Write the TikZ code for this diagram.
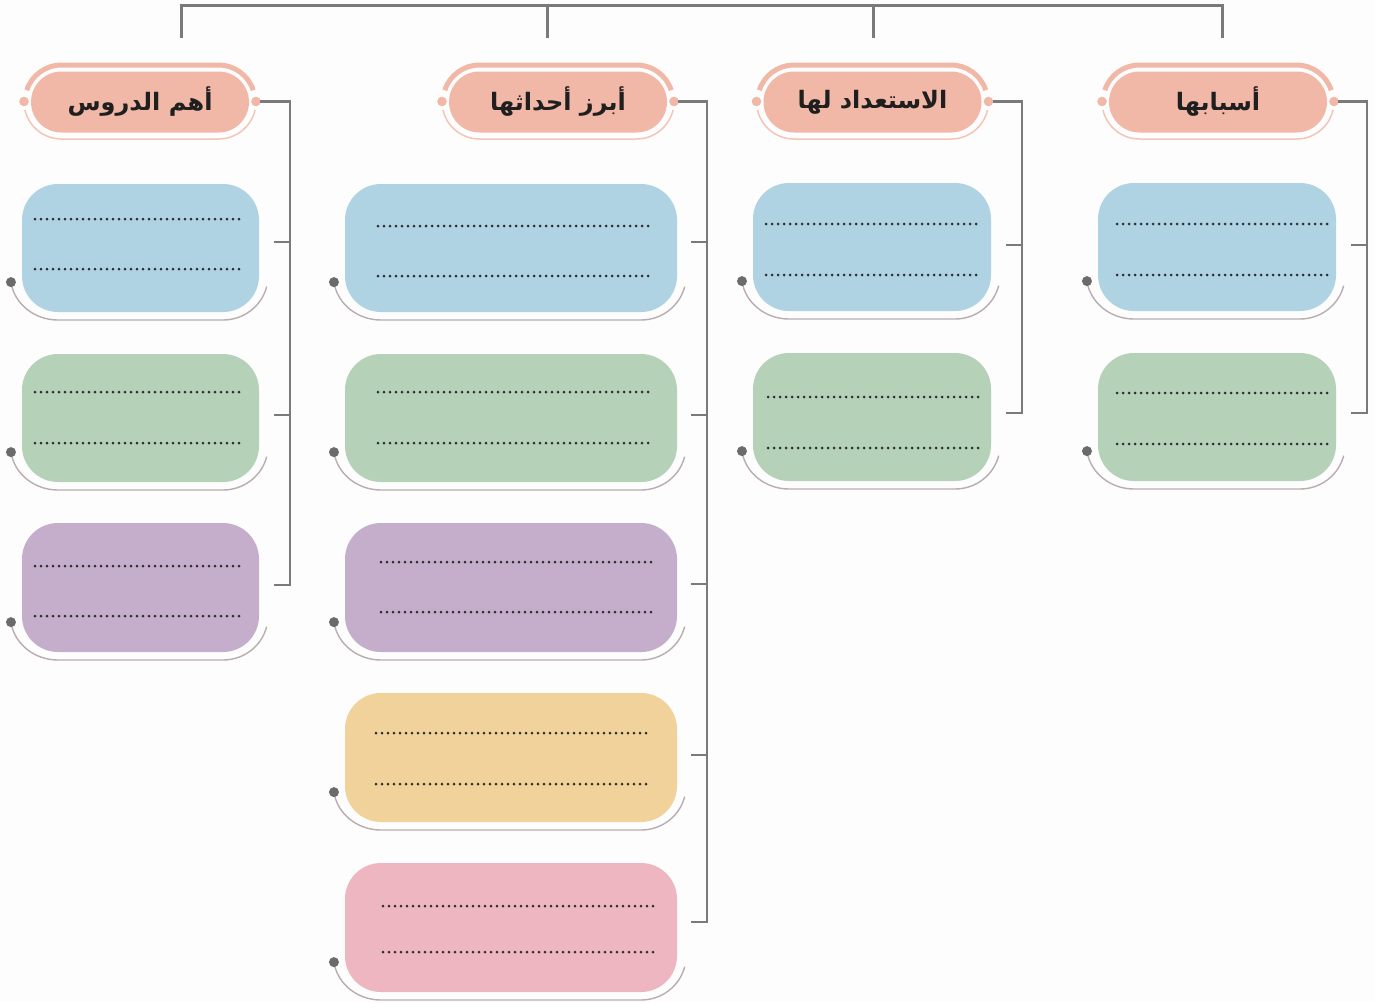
\documentclass[tikz,border=0pt]{standalone}
\usepackage{fontspec}
\newfontfamily\arabicfont[Script=Arabic]{DejaVu Sans}
\TeXXeTstate=1
\usetikzlibrary{shapes.misc}

\definecolor{salmon}{HTML}{F1B8A7}
\definecolor{salmonlt}{HTML}{F4C5B7}
\definecolor{cblue}{HTML}{AFD3E2}
\definecolor{cgreen}{HTML}{B5D2B8}
\definecolor{cpurple}{HTML}{C4AECB}
\definecolor{cyellow}{HTML}{F2D29B}
\definecolor{cpink}{HTML}{EEB6C0}
\definecolor{conncol}{HTML}{7A7A7A}
\definecolor{arccol}{HTML}{BAACAF}
\definecolor{dotcol}{HTML}{6B6B6B}
\definecolor{bgcol}{HTML}{FDFDFD}

\tikzset{
  hdr/.style={rounded rectangle, fill=salmon, minimum width=218pt, minimum height=61pt,
    inner sep=0pt, text=black!88, font=\arabicfont\bfseries\fontsize{24}{30}\selectfont},
  card/.style={rectangle, rounded corners=36pt, inner sep=0pt},
  connline/.style={draw=conncol, line width=2.5pt},
  busline/.style={draw=conncol, line width=3pt},
  dotline/.style={draw=black!82, line width=3pt, line cap=round, dash pattern=on 0pt off 6pt},
  arcline/.style={draw=arccol, line width=1.4pt},
}

\newcommand\mkhdr[3]{%
  \node[hdr] (#1) at (#2,102) {#3};
  \draw[salmon, line width=5pt] (#2-78.5,101.5) ++(198:36.5)
    arc[start angle=198,end angle=270,radius=36.5] -- ++(157,0)
    arc[start angle=270,end angle=342,radius=36.5];
  \draw[salmonlt, line width=1.5pt] (#2-78.5,101.5) ++(167:37.5)
    arc[start angle=167,end angle=90,radius=37.5] -- ++(157,0)
    arc[start angle=90,end angle=13,radius=37.5];
  \coordinate (#1l) at (#2-116,101.5);
  \coordinate (#1r) at (#2+116,101.5);
  \coordinate (#1c) at (#2+120,101.5);
  \fill[salmon] (#1l) circle[radius=4.8];
  \fill[salmon] (#1r) circle[radius=4.8];
}

\newcommand\mkcard[6]{%
  \node[card, fill=#6, minimum width={#4-#2}, minimum height={#5-#3}] (#1)
    at ({(#2+#4)/2},{(#3+#5)/2}) {};
  \coordinate (#1d) at (#2+36,#5-36);
  \draw[arcline] (#1d) ++(172:{47.5 and 44})
    arc[start angle=172,end angle=90,x radius=47.5,y radius=44] -- (#4-36,#5+8)
    arc[start angle=90,end angle=14,x radius=45,y radius=44];
  \fill[dotcol] (#1d) ++(172:{47.5 and 44}) circle[radius=5];
}

\begin{document}
\begin{tikzpicture}[x=1pt,y=-1pt]
\useasboundingbox[fill=bgcol] (0,0) rectangle (1375,1002);

% top bus
\coordinate (b1) at (181,38);
\coordinate (b2) at (547,38);
\coordinate (b3) at (873,38);
\coordinate (b4) at (1222,38);
\coordinate (t1) at (181,5);
\coordinate (t4) at (1222,5);
\draw[busline] (b1) -- (t1) -- (t4) -- (b4);
\draw[busline] (b2) -- (b2 |- t1);
\draw[busline] (b3) -- (b3 |- t1);

% headers
\mkhdr{h1}{140}{\beginR أهم الدروس\endR}
\mkhdr{h2}{558}{\beginR أبرز أحداثها\endR}
\mkhdr{h3}{872.5}{\beginR الاستعداد لها\endR}
\mkhdr{h4}{1218}{\beginR أسبابها\endR}

% column 1 cards
\mkcard{c11}{22}{184}{259}{312}{cblue}
\mkcard{c12}{22}{354}{259}{482}{cgreen}
\mkcard{c13}{22}{523}{259}{652}{cpurple}
% column 2 cards
\mkcard{c21}{345}{184}{677}{312}{cblue}
\mkcard{c22}{345}{354}{677}{482}{cgreen}
\mkcard{c23}{345}{523}{677}{652}{cpurple}
\mkcard{c24}{345}{693}{677}{822}{cyellow}
\mkcard{c25}{345}{863}{677}{992}{cpink}
% column 3 cards
\mkcard{c31}{753}{183}{991}{311}{cblue}
\mkcard{c32}{753}{353}{991}{481}{cgreen}
% column 4 cards
\mkcard{c41}{1098}{183}{1336}{311}{cblue}
\mkcard{c42}{1098}{353}{1336}{481}{cgreen}

% dotted lines
\foreach \xa/\xb/\y in {35/244/219, 35/244/269, 35/244/392, 35/244/443, 35/244/566, 35/244/616,
  378/652/226, 378/652/276, 378/652/392, 378/652/443, 381/655/562, 381/655/612,
  376/650/733, 376/650/784, 383/657/906, 383/657/952,
  766/977/224, 766/977/275, 768/979/397, 768/979/448,
  1117/1328/224, 1117/1328/275, 1117/1328/393, 1117/1328/444}
  \draw[dotline] (\xa,\y) -- (\xb,\y);

% side connectors
\coordinate (v1) at (290,585);
\coordinate (v2) at (707,922);
\coordinate (v3) at (1022,413);
\coordinate (v4) at (1367,413);
\draw[connline] (h1c) -| (v1) -- ++(-16,0);
\draw[connline] (h2c) -| (v2) -- ++(-16,0);
\draw[connline] (h3c) -| (v3) -- ++(-16,0);
\draw[connline] (h4c) -| (v4) -- ++(-16,0);

\foreach \y in {242,415} \draw[connline] (v1 |- 0,\y) -- ++(-16,0);
\foreach \y in {242,415,584,755} \draw[connline] (v2 |- 0,\y) -- ++(-16,0);
\draw[connline] (v3 |- 0,245) -- ++(-16,0);
\draw[connline] (v4 |- 0,245) -- ++(-16,0);

\end{tikzpicture}
\end{document}
